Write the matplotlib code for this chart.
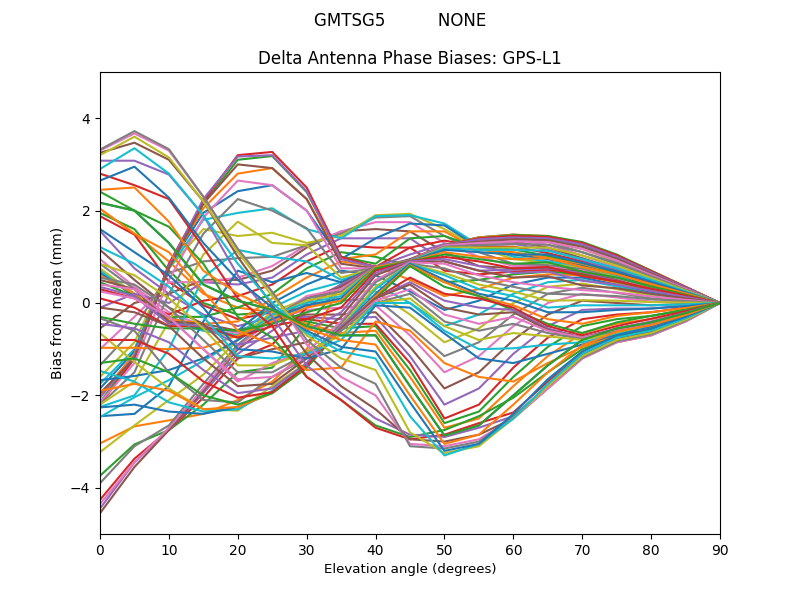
import numpy as np
import matplotlib
matplotlib.use('Agg')
import matplotlib.pyplot as plt

elevation = list(range(0, 95, 5))

# bias (mm) at each elevation, one value per azimuth step of 5 degrees
el00 = [2.17,2.04,1.95,1.88,1.56,1.15,.95,.85,.75,.7,.65,.6,.45,.3,-.1,-.55,-1.0,-1.35,-1.6,-1.75,-1.85,-2.0,-2.15,-2.2,-2.05,-1.95,-2.15,-2.2,-2.2,-2.25,-2.45,-3.04,-3.74,-4.26,-4.45,-4.55,-4.35,-3.9,-3.23,-2.47,-1.67,-.97,-.3,.1,.35,.5,.4,-.33,-.65,-1.47,-2.26,-1.9,-1.3,-.8,-.45,-.1,.25,.55,.85,1.21,1.6,2.04,2.41,2.8,3.08,3.25,3.3,3.32,3.2,2.9,2.65,2.45]
el05 = [2.0,1.5,1.6,1.48,.75,.5,.35,.3,.2,.15,.15,.2,.15,.1,.2,0,-.3,-.55,-.85,-1.0,-1.05,-1.1,-1.15,-1.2,-1.15,-1.2,-1.3,-1.5,-1.7,-2.0,-2.4,-2.67,-3.06,-3.37,-3.45,-3.55,-3.45,-3.1,-2.65,-2.04,-1.58,-.97,-.45,-.1,.15,.3,.3,-.6,-1.28,-1.7,-2.2,-1.75,-1.2,-.8,-.55,-.2,.1,.4,.6,.85,1.1,1.5,2.0,2.55,3.08,3.47,3.67,3.72,3.6,3.35,2.95,2.5]
el10 = [1.3,.9,.7,.46,.2,-.1,-.2,-.3,-.35,-.4,-.4,-.35,-.3,-.25,0,.2,.45,.65,.75,.75,.8,.8,.8,.85,.8,.75,.5,.2,-.4,-1.0,-1.8,-2.54,-2.75,-2.75,-2.75,-2.75,-2.7,-2.65,-2.1,-1.67,-1.45,-1.0,-.55,-.5,-.45,-.4,-.3,-1.5,-1.85,-2.15,-2.35,-1.9,-1.5,-1.1,-.85,-.5,-.3,-.1,.1,.35,.6,1.1,1.65,2.25,2.78,3.1,3.3,3.33,3.15,2.8,2.28,1.76]
el15 = [.4,.2,0,-.05,-.25,-.45,-.5,-.55,-.6,-.6,-.55,-.45,-.3,.05,.45,.5,.45,.9,1.6,1.8,1.95,2.05,2.15,2.2,2.25,2.15,1.85,1.5,1.05,.55,-.4,-2.4,-2.2,-2.05,-1.95,-1.9,-1.85,-1.75,-1.55,-1.25,-1.2,-.97,-.55,-.5,-.5,-.45,-1.0,-2.1,-2.3,-2.35,-2.4,-2.3,-2.0,-1.7,-1.45,-1.2,-1.0,-.8,-.55,-.3,-.1,.25,.85,1.2,1.9,2.2,2.3,2.3,2.2,1.9,1.3,.7]
el20 = [.05,-.1,-.25,-.35,-.5,-.6,-.65,-.7,-.75,-.7,-.6,-.4,-.1,.15,.4,.5,.55,.97,1.45,1.95,2.42,2.8,3.1,3.2,3.17,3.0,2.65,2.25,1.76,1.15,.7,-2.1,-1.5,-1.2,-1.1,-1.0,-.95,-.9,-.8,-.8,-.8,-.7,-.6,-.75,-.9,-1.2,-1.7,-2.15,-2.33,-2.3,-2.25,-2.25,-2.2,-2.05,-1.95,-1.8,-1.65,-1.5,-1.35,-1.15,-1.0,-.6,-.3,.1,.6,1.0,1.17,1.17,1.1,.85,.5,.2]
el25 = [-.15,-.2,-.2,-.2,-.3,-.35,-.35,-.3,-.2,-.1,0,.1,.2,.4,.55,.7,.8,1.0,1.52,2.05,2.55,2.92,3.18,3.27,3.2,2.92,2.55,2.0,1.3,1.0,.45,-1.7,-1.4,-.9,-.6,-.45,-.35,-.3,-.3,-.25,-.35,-.4,-.45,-.5,-.75,-1.0,-1.3,-1.6,-1.8,-1.9,-1.95,-1.95,-1.95,-1.93,-1.85,-1.75,-1.6,-1.5,-1.35,-1.2,-1.05,-.9,-.75,-.5,-.3,-.05,.24,.24,.15,0,-.1,-.15]
el30 = [-.5,-.45,-.4,-.35,-.3,-.25,-.15,-.05,.1,.25,.4,.55,.75,.9,1.05,1.2,1.25,1.25,1.3,1.6,2.0,2.25,2.4,2.5,2.42,2.25,2.0,1.62,1.25,.9,.65,-1.0,-.5,-.1,0,.1,.15,.1,.05,0,-.05,-.1,-.2,-.35,-.6,-.85,-1.05,-1.2,-1.3,-1.35,-1.4,-1.4,-1.4,-1.35,-1.3,-1.2,-1.15,-1.1,-1.05,-1.1,-1.2,-1.45,-1.6,-1.6,-1.35,-1.1,-.9,-.8,-.7,-.65,-.6,-.55]
el35 = [-.7,-.65,-.55,-.45,-.35,-.25,-.1,.05,.25,.45,.7,.9,1.1,1.25,1.4,1.55,1.55,1.5,1.45,1.4,.95,.95,1.0,1.0,.95,.85,.75,.65,.55,.5,.45,.4,.4,.4,.4,.35,.3,.25,.2,.15,.1,.05,0,-.1,-.2,-.3,-.4,-.45,-.5,-.55,-.55,-.55,-.55,-.55,-.5,-.55,-.6,-.6,-.7,-.8,-1.0,-1.4,-2.1,-2.1,-1.95,-1.8,-1.6,-1.4,-1.2,-1.05,-.95,-.8]
el40 = [-.7,-.6,-.5,-.45,-.3,-.2,-.05,.1,.25,.4,.6,.8,1.0,1.2,1.4,1.6,1.75,1.85,1.9,1.88,1.4,1.05,.85,.78,.78,.75,.75,.75,.75,.72,.78,.78,.78,.78,.78,.78,.78,.78,.78,.78,.78,.78,.75,.7,.65,.6,.5,.45,.35,.3,.2,.15,.1,.1,.1,.1,.05,0,0,0,-.05,-.4,-2.65,-2.7,-2.5,-2.3,-2.0,-1.75,-1.45,-1.2,-1.05,-.9]
el45 = [-1.8,-1.6,-1.45,-1.3,-1.15,-.95,-.7,-.5,-.25,0,.25,.5,.8,1.2,1.4,1.55,1.75,1.88,1.93,1.9,1.72,1.55,1.4,1.2,1.05,.95,.92,.9,.9,.9,.88,.88,.9,.9,.92,.92,.92,.92,.9,.9,.9,.9,.9,.9,.9,.88,.88,.85,.85,.85,.85,.82,.8,.55,.45,.4,.3,.2,.1,0,-.1,-.6,-2.9,-2.95,-2.85,-2.95,-3.05,-3.1,-2.8,-2.45,-2.15,-2.0]
el50 = [-2.87,-2.7,-2.6,-2.5,-2.2,-1.85,-1.5,-1.15,-.85,-.5,-.15,.15,.45,.7,.9,1.1,1.3,1.45,1.6,1.72,1.68,1.55,1.45,1.35,1.28,1.25,1.25,1.25,1.25,1.25,1.25,1.25,1.25,1.25,1.25,1.25,1.25,1.22,1.2,1.18,1.15,1.1,1.05,1.0,.95,.9,.85,.75,.65,.6,.5,.45,.35,.2,.05,-.1,-.25,-.4,-.5,-.6,-.66,-1.3,-2.75,-2.85,-2.9,-3.0,-3.1,-3.15,-3.25,-3.3,-3.2,-3.05]
el55 = [-2.65,-2.5,-2.35,-2.2,-1.85,-1.5,-1.15,-.85,-.55,-.25,.05,.3,.5,.62,.7,.8,1.0,1.1,1.2,1.25,1.2,1.15,1.2,1.22,1.25,1.3,1.35,1.38,1.4,1.42,1.42,1.42,1.4,1.4,1.38,1.33,1.3,1.25,1.2,1.15,1.1,1.0,.95,.9,.8,.7,.6,.5,.4,.3,.2,.15,.15,.1,-.1,-.25,-.45,-.6,-.8,-1.0,-1.2,-1.6,-2.45,-2.6,-2.7,-2.85,-2.95,-3.0,-3.1,-3.05,-3.05,-2.85]
el60 = [-2.0,-1.8,-1.6,-1.4,-1.1,-.8,-.5,-.25,0,.2,.4,.55,.62,.68,.72,.75,.8,.85,.95,1.0,1.05,1.1,1.16,1.22,1.28,1.33,1.38,1.42,1.45,1.47,1.48,1.48,1.47,1.45,1.42,1.38,1.33,1.28,1.2,1.15,1.05,.95,.85,.75,.65,.55,.45,.35,.25,.15,.05,-.05,-.15,-.1,-.15,-.2,-.3,-.45,-.65,-.98,-1.3,-1.7,-2.05,-2.37,-2.45,-2.5,-2.5,-2.45,-2.5,-2.5,-2.4,-2.2]
el65 = [-1.35,-1.15,-.95,-.75,-.5,-.25,0,.2,.35,.45,.55,.62,.68,.72,.75,.77,.8,.82,.87,.9,.95,.98,1.02,1.08,1.15,1.2,1.26,1.32,1.36,1.4,1.43,1.45,1.45,1.43,1.4,1.36,1.32,1.26,1.2,1.13,1.05,.97,.88,.78,.68,.58,.35,.2,.05,-.1,-.2,-.35,-.45,-.5,-.55,-.58,-.6,-.65,-.72,-.9,-1.1,-1.3,-1.5,-1.7,-1.8,-1.85,-1.85,-1.8,-1.8,-1.75,-1.65,-1.5]
el70 = [-.8,-.65,-.5,-.35,-.15,.05,.2,.33,.42,.5,.55,.6,.62,.65,.67,.7,.72,.75,.78,.8,.82,.85,.87,.9,.93,.97,1.03,1.1,1.17,1.22,1.27,1.3,1.32,1.3,1.27,1.22,1.17,1.1,1.03,.95,.87,.78,.68,.58,.48,.38,.28,.18,.06,-.05,-.2,-.45,-.65,-.7,-.75,-.75,-.75,-.78,-.8,-.85,-.9,-.95,-1.0,-1.1,-1.15,-1.2,-1.2,-1.18,-1.15,-1.1,-1.05,-.92]
el75 = [-.55,-.45,-.35,-.25,-.12,0,.12,.22,.3,.36,.4,.44,.46,.48,.5,.52,.54,.56,.58,.6,.62,.64,.66,.68,.7,.74,.78,.84,.9,.96,1.0,1.03,1.05,1.03,1.0,.96,.92,.87,.81,.75,.68,.62,.55,.47,.4,.32,.23,.15,.05,-.05,-.15,-.28,-.42,-.5,-.55,-.57,-.6,-.62,-.65,-.68,-.7,-.72,-.74,-.77,-.8,-.85,-.85,-.83,-.8,-.75,-.7,-.62]
el80 = [-.42,-.35,-.28,-.2,-.12,-.05,.03,.1,.16,.2,.24,.27,.29,.3,.31,.32,.33,.34,.35,.36,.38,.39,.41,.43,.46,.5,.54,.58,.62,.65,.68,.7,.7,.69,.67,.64,.61,.58,.54,.5,.46,.41,.36,.31,.26,.2,.14,.08,.02,-.05,-.12,-.2,-.28,-.34,-.4,-.43,-.46,-.48,-.5,-.51,-.52,-.55,-.58,-.62,-.66,-.7,-.7,-.68,-.65,-.6,-.55,-.48]
el85 = [-.22,-.18,-.14,-.1,-.06,-.02,.02,.05,.08,.1,.12,.14,.15,.16,.17,.18,.18,.19,.19,.2,.2,.21,.22,.23,.24,.25,.27,.29,.31,.33,.34,.35,.35,.35,.34,.32,.31,.29,.27,.25,.23,.21,.18,.16,.13,.1,.07,.04,.01,-.03,-.07,-.11,-.15,-.18,-.21,-.23,-.25,-.27,-.28,-.29,-.3,-.31,-.33,-.35,-.37,-.4,-.4,-.38,-.36,-.33,-.3,-.26]
el90 = [0.0] * 72

columns = [el00, el05, el10, el15, el20, el25, el30, el35, el40, el45,
           el50, el55, el60, el65, el70, el75, el80, el85, el90]

bias = np.array(columns).T
# azimuth 360 repeats azimuth 0
bias = np.vstack([bias, bias[0]])

fig = plt.figure(figsize=(8, 6))
fig.suptitle('GMTSG5          NONE')
ax = fig.add_subplot(111)
for row in bias:
    ax.plot(elevation, row)

ax.set_title('Delta Antenna Phase Biases: GPS-L1')
ax.set_xlabel('Elevation angle (degrees)', fontsize=9.6)
ax.set_ylabel('Bias from mean (mm)')
ax.set_xlim(0, 90)
ax.set_ylim(-5, 5)

plt.savefig('out.png', dpi=100)
